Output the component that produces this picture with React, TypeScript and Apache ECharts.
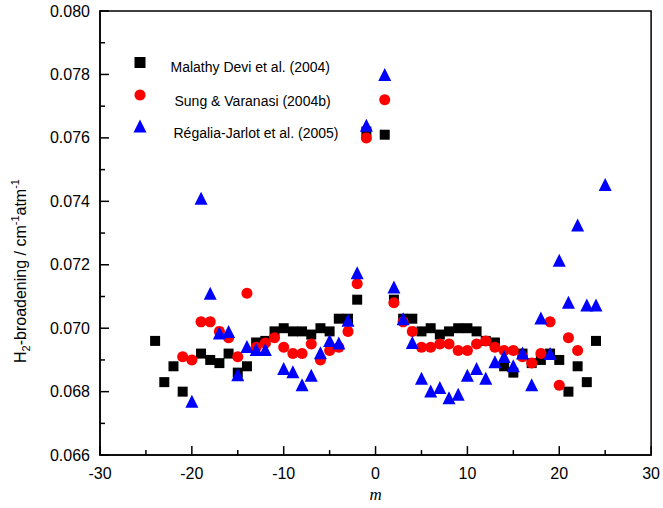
import React, { useEffect, useRef } from "react";
import * as echarts from "echarts";

// Malathy Devi et al. (2004)
const mMalathy = [-24, -23, -22, -21, -19, -18, -17, -16, -15, -14, -13, -12, -11, -10, -9, -8, -7, -6, -5, -4, -3, -2, -1,
  1, 2, 3, 4, 5, 6, 7, 8, 9, 10, 11, 12, 13, 14, 15, 16, 17, 18, 19, 20, 21, 22, 23, 24];
const vMalathy = [0.0696, 0.0683, 0.0688, 0.0680, 0.0692, 0.0690, 0.0689, 0.0692, 0.0686, 0.0688, 0.06955, 0.0696, 0.0699, 0.0700, 0.0699, 0.0699, 0.0698, 0.0700, 0.0699, 0.0703, 0.0703, 0.0709, 0.0762,
  0.0761, 0.0709, 0.0703, 0.0703, 0.0699, 0.0700, 0.0698, 0.0699, 0.0700, 0.0700, 0.0699, 0.0696, 0.06955, 0.0688, 0.0686, 0.0692, 0.0689, 0.0690, 0.0692, 0.0690, 0.0680, 0.0688, 0.0683, 0.0696];

// Sung & Varanasi (2004b)
const mSung = [-21, -20, -19, -18, -17, -16, -15, -14, -13, -12, -11, -10, -9, -8, -7, -6, -5, -4, -3, -2, -1,
  1, 2, 3, 4, 5, 6, 7, 8, 9, 10, 11, 12, 13, 14, 15, 16, 17, 18, 19, 20, 21, 22];
const vSung = [0.0691, 0.0690, 0.0702, 0.0702, 0.0699, 0.0697, 0.0691, 0.0711, 0.0694, 0.06953, 0.0697, 0.0694, 0.0692, 0.0692, 0.0695, 0.0690, 0.0693, 0.0694, 0.0699, 0.0714, 0.0760,
  0.0772, 0.0708, 0.0702, 0.0699, 0.0694, 0.0694, 0.0695, 0.0695, 0.0693, 0.0693, 0.0695, 0.0696, 0.0694, 0.0693, 0.0693, 0.0691, 0.0689, 0.0692, 0.0702, 0.0682, 0.0697, 0.0693];

// Régalia-Jarlot et al. (2005)
const mRegalia = [-20, -19, -18, -17, -16, -15, -14, -13, -12, -10, -9, -8, -7, -6, -5, -4, -3, -2, -1,
  1, 2, 3, 4, 5, 6, 7, 8, 9, 10, 11, 12, 13, 14, 15, 16, 17, 18, 19, 20, 21, 22, 23, 24, 25];
const vRegalia = [0.0677, 0.0741, 0.0711, 0.06985, 0.0699, 0.06853, 0.06942, 0.06933, 0.06933, 0.06873, 0.06863, 0.06822, 0.06852, 0.06923, 0.06961, 0.06953, 0.07025, 0.07175, 0.0764,
  0.0780, 0.0713, 0.0703, 0.06955, 0.06842, 0.06802, 0.06813, 0.06781, 0.06792, 0.06852, 0.06873, 0.06842, 0.06894, 0.06911, 0.06882, 0.06922, 0.06822, 0.07032, 0.0692, 0.07214, 0.07082, 0.07325, 0.07073, 0.07073, 0.07453];

const seriesNames = ["Malathy Devi et al. (2004)", "Sung & Varanasi (2004b)", "Régalia-Jarlot et al. (2005)"];

const X_MIN = -30, X_MAX = 30, X_STEP = 10;
const Y_MIN = 0.066, Y_MAX = 0.080, Y_STEP = 0.002;

// Tick mark positions (major + minor) along each axis
const xTickValues = [-30, -25, -20, -15, -10, -5, 0, 5, 10, 15, 20, 25, 30];
const yTickValues = [0.066, 0.067, 0.068, 0.069, 0.070, 0.071, 0.072, 0.073, 0.074, 0.075, 0.076, 0.077, 0.078, 0.079, 0.080];

const FONT = "Liberation Sans, Arial, sans-serif";

const isMajor = (v: number, step: number) => Math.abs(v / step - Math.round(v / step)) < 1e-6;

export default function App() {
  const ref = useRef<HTMLDivElement>(null);
  useEffect(() => {
    const chart = echarts.init(ref.current!, null, { renderer: "svg" });
    const legendSpecs = [
      { size: 11, left: 134.5, top: 57, lh: 22, padL: 20 },
      { size: 11, left: 134.5, top: 89.5, lh: 26, padL: 24 },
      { size: 13, left: 133.5, top: 119.5, lh: 28, padL: 22 },
    ];
    const black = "#000";
    const mainAxis = {
      axisLine: { show: true, onZero: false, lineStyle: { color: black, width: 1.5 } },
      axisTick: { show: false },
      minorTick: { show: false },
      splitLine: { show: false },
    };
    chart.setOption({
      animation: false,
      backgroundColor: "#fff",
      grid: {
        left: 100, right: 10, top: 11, bottom: 50, show: true,
        backgroundColor: "transparent", borderColor: black, borderWidth: 1.5,
      },
      xAxis: {
        type: "value", min: X_MIN, max: X_MAX, interval: X_STEP,
        ...mainAxis,
        axisLabel: { color: black, fontSize: 16, fontFamily: FONT, margin: 10 },
        name: "m", nameLocation: "middle", nameGap: 27,
        nameTextStyle: { fontFamily: "Liberation Serif, Times New Roman, serif", fontStyle: "italic", fontSize: 17, color: black },
      },
      yAxis: {
        type: "value", min: Y_MIN, max: Y_MAX, interval: Y_STEP,
        ...mainAxis,
        axisLabel: { color: black, fontSize: 16, fontFamily: FONT, margin: 10, formatter: (v: number) => v.toFixed(3) },
      },
      legend: legendSpecs.map((s, i) => ({
        data: [seriesNames[i]],
        left: s.left, top: s.top, padding: 0,
        itemWidth: s.size, itemHeight: s.size,
        selectedMode: false,
        formatter: "{t|{name}}{s| }",
        textStyle: {
          fontFamily: FONT, fontSize: 14, color: black,
          rich: {
            t: { fontFamily: FONT, fontSize: 14, color: black, lineHeight: 14, verticalAlign: "bottom", padding: [0, 0, 0, s.padL] },
            s: { fontSize: 2, lineHeight: s.lh },
          },
        },
      })),
      graphic: [
        {
          type: "text", x: 20, y: 271, rotation: Math.PI / 2,
          style: {
            text: "{n|H}{sub|2}{n|-broadening / cm}{sup|-1}{n|atm}{sup|-1}",
            align: "center", verticalAlign: "middle", fill: black,
            rich: {
              n: { fontSize: 16, fontFamily: FONT, lineHeight: 22, fill: black },
              sub: { fontSize: 11, fontFamily: FONT, verticalAlign: "bottom", fill: black },
              sup: { fontSize: 11, fontFamily: FONT, verticalAlign: "top", fill: black },
            },
          },
        },
      ],
      series: [
        {
          type: "scatter", name: seriesNames[0], symbol: "rect", symbolSize: 10,
          itemStyle: { color: black, opacity: 1 },
          data: mMalathy.map((m, i) => [m, vMalathy[i]]),
        },
        {
          type: "scatter", name: seriesNames[1], symbol: "circle", symbolSize: 11,
          itemStyle: { color: "#ff0000", opacity: 1 },
          data: mSung.map((m, i) => [m, vSung[i]]),
        },
        {
          type: "scatter", name: seriesNames[2], symbol: "triangle", symbolSize: 13,
          itemStyle: { color: "#0000ff", opacity: 1 },
          data: mRegalia.map((m, i) => [m, vRegalia[i]]),
        },
        {
          // inside tick marks on the bottom axis
          type: "custom", name: "xTicks", silent: true, z: 5,
          data: xTickValues.map((v) => [v, Y_MIN]),
          encode: { x: 0, y: 1 },
          renderItem: (params: any, api: any) => {
            const v = api.value(0);
            const p = api.coord([v, Y_MIN]);
            const len = isMajor(v, X_STEP) ? 9 : 5;
            return {
              type: "line",
              shape: { x1: p[0], y1: p[1], x2: p[0], y2: p[1] - len },
              style: { stroke: black, lineWidth: 1.5 },
            };
          },
        },
        {
          // inside tick marks on the left axis
          type: "custom", name: "yTicks", silent: true, z: 5,
          data: yTickValues.map((v) => [X_MIN, v]),
          encode: { x: 0, y: 1 },
          renderItem: (params: any, api: any) => {
            const v = api.value(1);
            const p = api.coord([X_MIN, v]);
            const len = isMajor(v, Y_STEP) ? 9 : 5;
            return {
              type: "line",
              shape: { x1: p[0], y1: p[1], x2: p[0] + len, y2: p[1] },
              style: { stroke: black, lineWidth: 1.5 },
            };
          },
        },
      ],
    });
    return () => chart.dispose();
  }, []);
  return <div ref={ref} style={{ position: "fixed", left: 0, top: 0, width: 663, height: 508, background: "#fff" }} />;
}
